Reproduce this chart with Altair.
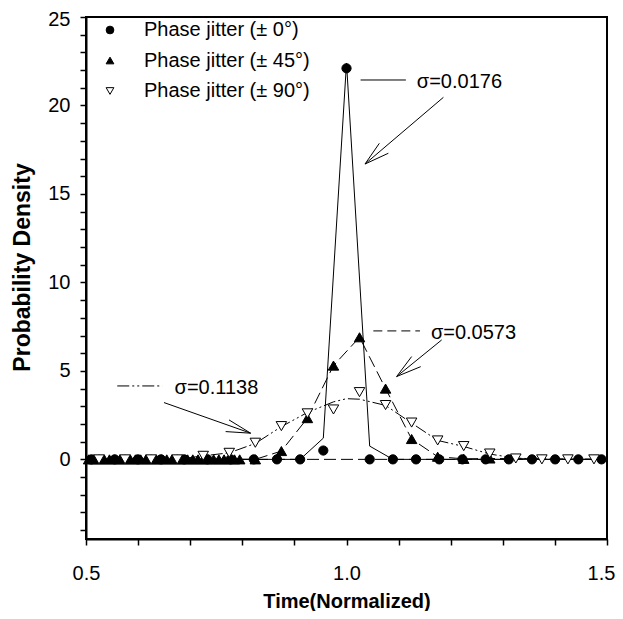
import altair as alt
import pandas as pd

labels = ["Phase jitter (± 0°)", "Phase jitter (± 45°)", "Phase jitter (± 90°)"]

# ±0° markers (filled circles)
x_c = [0.5105, 0.555, 0.5995, 0.644, 0.6885, 0.733, 0.7775, 0.822, 0.8665, 0.911,
       0.9555, 1.0, 1.0445, 1.089, 1.1335, 1.178, 1.2225, 1.267, 1.3115, 1.356,
       1.4005, 1.445, 1.4895]
y_c = [0, 0, 0, 0, 0, 0, 0, 0, 0, 0,
       0.5, 22.1, 0, 0, 0, 0, 0, 0, 0, 0,
       0, 0, 0]

# ±45° markers (filled up-triangles)
x_t = [0.505, 0.515, 0.525, 0.535, 0.545, 0.555, 0.565, 0.575, 0.585, 0.595,
       0.605, 0.615, 0.625, 0.635, 0.645, 0.655, 0.665, 0.675, 0.685, 0.695,
       0.705, 0.715, 0.725, 0.735, 0.745, 0.755, 0.765, 0.775, 0.785, 0.795,
       0.825, 0.875, 0.925, 0.975, 1.025, 1.075, 1.125, 1.175, 1.225, 1.275]
y_t = [0, 0, 0, 0, 0, 0, 0, 0, 0, 0,
       0, 0, 0, 0, 0, 0, 0, 0, 0, 0,
       0, 0, 0, 0, 0, 0, 0, 0, 0, 0,
       0, 0.47, 2.33, 5.3, 6.9, 4.0, 1.15, 0.15, 0.03, 0.05]

# ±90° markers (open down-triangles)
x_d = [0.525, 0.575, 0.625, 0.675, 0.725, 0.775, 0.825, 0.875, 0.925, 0.975,
       1.025, 1.075, 1.125, 1.175, 1.225, 1.275, 1.325, 1.375, 1.425, 1.475]
y_d = [0, 0, 0, 0, 0.2, 0.37, 0.94, 1.88, 2.6, 2.82,
       3.8, 3.07, 2.08, 1.07, 0.75, 0.33, 0.05, 0.0, 0.0, 0.0]

# curves
lx0 = [0.5, 0.911, 0.9555, 1.0, 1.0445, 1.089, 1.5]
ly0 = [0, 0, 1.2, 22.4, 0.75, 0, 0]
lx45 = [0.5, 0.825, 0.875, 0.925, 0.975, 1.025, 1.075, 1.125, 1.175, 1.225, 1.275, 1.5]
ly45 = [0, 0, 0.47, 2.33, 5.3, 6.9, 4.0, 1.15, 0.15, 0.03, 0.05, 0]
lx90 = [0.5, 0.675, 0.725, 0.775, 0.825, 0.875, 0.925, 0.975, 1.0, 1.025, 1.075,
        1.125, 1.175, 1.225, 1.275, 1.325, 1.375, 1.5]
ly90 = [0, 0, 0.2, 0.37, 0.9, 1.85, 2.65, 3.25, 3.43, 3.4, 3.05,
        2.05, 1.07, 0.73, 0.3, 0.07, 0.02, 0]
base_x = [0.5, 1.5]
base_y = [0, 0]

# annotations
ann_text = ["σ=0.0176", "σ=0.0573", "σ=0.1138"]
ann_tx = [1.135, 1.162, 0.670]
ann_ty = [21.3, 7.13, 4.02]

seg_solid = [
    (1.027, 21.44, 1.114, 21.44),
    (1.186, 20.46, 1.0355, 16.69), (1.0355, 16.69, 1.063, 17.86), (1.0355, 16.69, 1.0803, 17.30),
    (1.1827, 6.75, 1.0962, 4.68), (1.0962, 4.68, 1.125, 5.81), (1.0962, 4.68, 1.1424, 5.24),
    (0.6497, 3.21, 0.816, 1.48), (0.816, 1.48, 0.7745, 2.23), (0.816, 1.48, 0.768, 1.57),
]
seg_dash = [(1.0515, 7.26, 1.141, 7.26)]
seg_dashdot = [(0.560, 4.15, 0.6465, 4.15)]

FONT = "Liberation Sans"
xs = alt.Scale(domain=[0.5, 1.5], nice=False, zero=False)
ys = alt.Scale(domain=[-4.5, 25], nice=False, zero=False)

xticks = [0.5, 0.6, 0.7, 0.8, 0.9, 1.0, 1.1, 1.2, 1.3, 1.4, 1.5]
yticks = list(range(-4, 26))

xaxis = alt.Axis(values=xticks, title="Time(Normalized)",
                 labelExpr="(datum.value == 0.5 || datum.value == 1 || datum.value == 1.5) ? format(datum.value, '.1f') : ''",
                 labelOffset={"condition": {"test": "datum.value == 1.5", "value": -6}, "value": 0},
                 labelPadding=18, titleY=62, titleBaseline="middle")
yaxis = alt.Axis(values=yticks, title="Probability Density",
                 labelExpr="(datum.value >= 0 && datum.value % 5 == 0) ? format(datum.value, 'd') : ''",
                 labelOffset={"condition": {"test": "datum.value == 25", "value": 2}, "value": 0},
                 labelPadding=10, titleX=-64, titleY=250, titleBaseline="middle", titleFontSize=23)


def X(f="x"):
    return alt.X(f + ":Q", scale=xs, axis=xaxis)


def Y(f="y"):
    return alt.Y(f + ":Q", scale=ys, axis=yaxis)


leg = alt.Legend(title=None, orient="none", legendX=14, legendY=3, padding=0, labelFontSize=20,
                 labelFont=FONT, labelColor="black", symbolSize=60, symbolStrokeColor="black",
                 symbolStrokeWidth=1, rowPadding=10.5, labelOffset=24, labelLimit=400)

shape_enc = alt.Shape("series:N", scale=alt.Scale(domain=labels, range=["circle", "triangle-up", "triangle-down"]), legend=leg)
fill_enc = alt.Fill("series:N", scale=alt.Scale(domain=labels, range=["black", "black", "white"]), legend=leg)
stroke_enc = alt.Stroke("series:N", scale=alt.Scale(domain=labels, range=["black", "black", "black"]), legend=leg)


def line_layer(xv, yv, dash=None):
    df = pd.DataFrame({"x": xv, "y": yv})
    kw = {"strokeDash": dash} if dash else {}
    return alt.Chart(df).mark_line(color="black", strokeWidth=1, **kw).encode(x=X(), y=Y())


def seg_layer(segs, dash=None):
    df = pd.DataFrame(segs, columns=["x", "y", "x2", "y2"])
    kw = {"strokeDash": dash} if dash else {}
    return alt.Chart(df).mark_rule(color="black", strokeWidth=1, **kw).encode(
        x=X(), y=Y(), x2="x2:Q", y2="y2:Q")


def point_layer(xv, yv, name, size):
    df = pd.DataFrame({"x": xv, "y": yv, "series": [name] * len(xv)})
    return alt.Chart(df).mark_point(opacity=1, strokeWidth=1, size=size).encode(
        x=X(), y=Y(), shape=shape_enc, fill=fill_enc, stroke=stroke_enc)


l_base = line_layer(base_x, base_y, [12, 5])
l0 = line_layer(lx0, ly0)
l45 = line_layer(lx45, ly45, [12, 5])
l90 = line_layer(lx90, ly90, [12, 3, 2, 3, 2, 3])

p0 = point_layer(x_c, y_c, labels[0], 85)
p1 = point_layer(x_t, y_t, labels[1], 110)
p2 = point_layer(x_d, y_d, labels[2], 110)

texts = alt.Chart(pd.DataFrame({"x": ann_tx, "y": ann_ty, "t": ann_text})).mark_text(
    align="left", baseline="middle", fontSize=20, font=FONT, color="black").encode(
    x=X(), y=Y(), text="t:N")

chart = alt.layer(
    l_base, l0, l45, l90, p0, p1, p2,
    seg_layer(seg_solid), seg_layer(seg_dash, [9, 5]), seg_layer(seg_dashdot, [12, 3, 2, 3, 2, 3]),
    texts,
).properties(
    width=521, height=522, autosize="none",
    padding={"left": 78, "top": 9, "right": 8, "bottom": 72},
).configure_view(stroke="black", strokeWidth=2).configure_axis(
    labelOverlap=False, labelFontSize=20, labelFont=FONT, labelColor="black",
    tickSize=6, tickColor="black", tickWidth=1.5, domainColor="black", domainWidth=2,
    titleFont=FONT, titleFontSize=20, titleFontWeight="bold", titleColor="black",
    grid=False, labelFlush=False, labelBound=False,
)

chart.save("out.html", embed_options={"renderer": "svg", "actions": False})
